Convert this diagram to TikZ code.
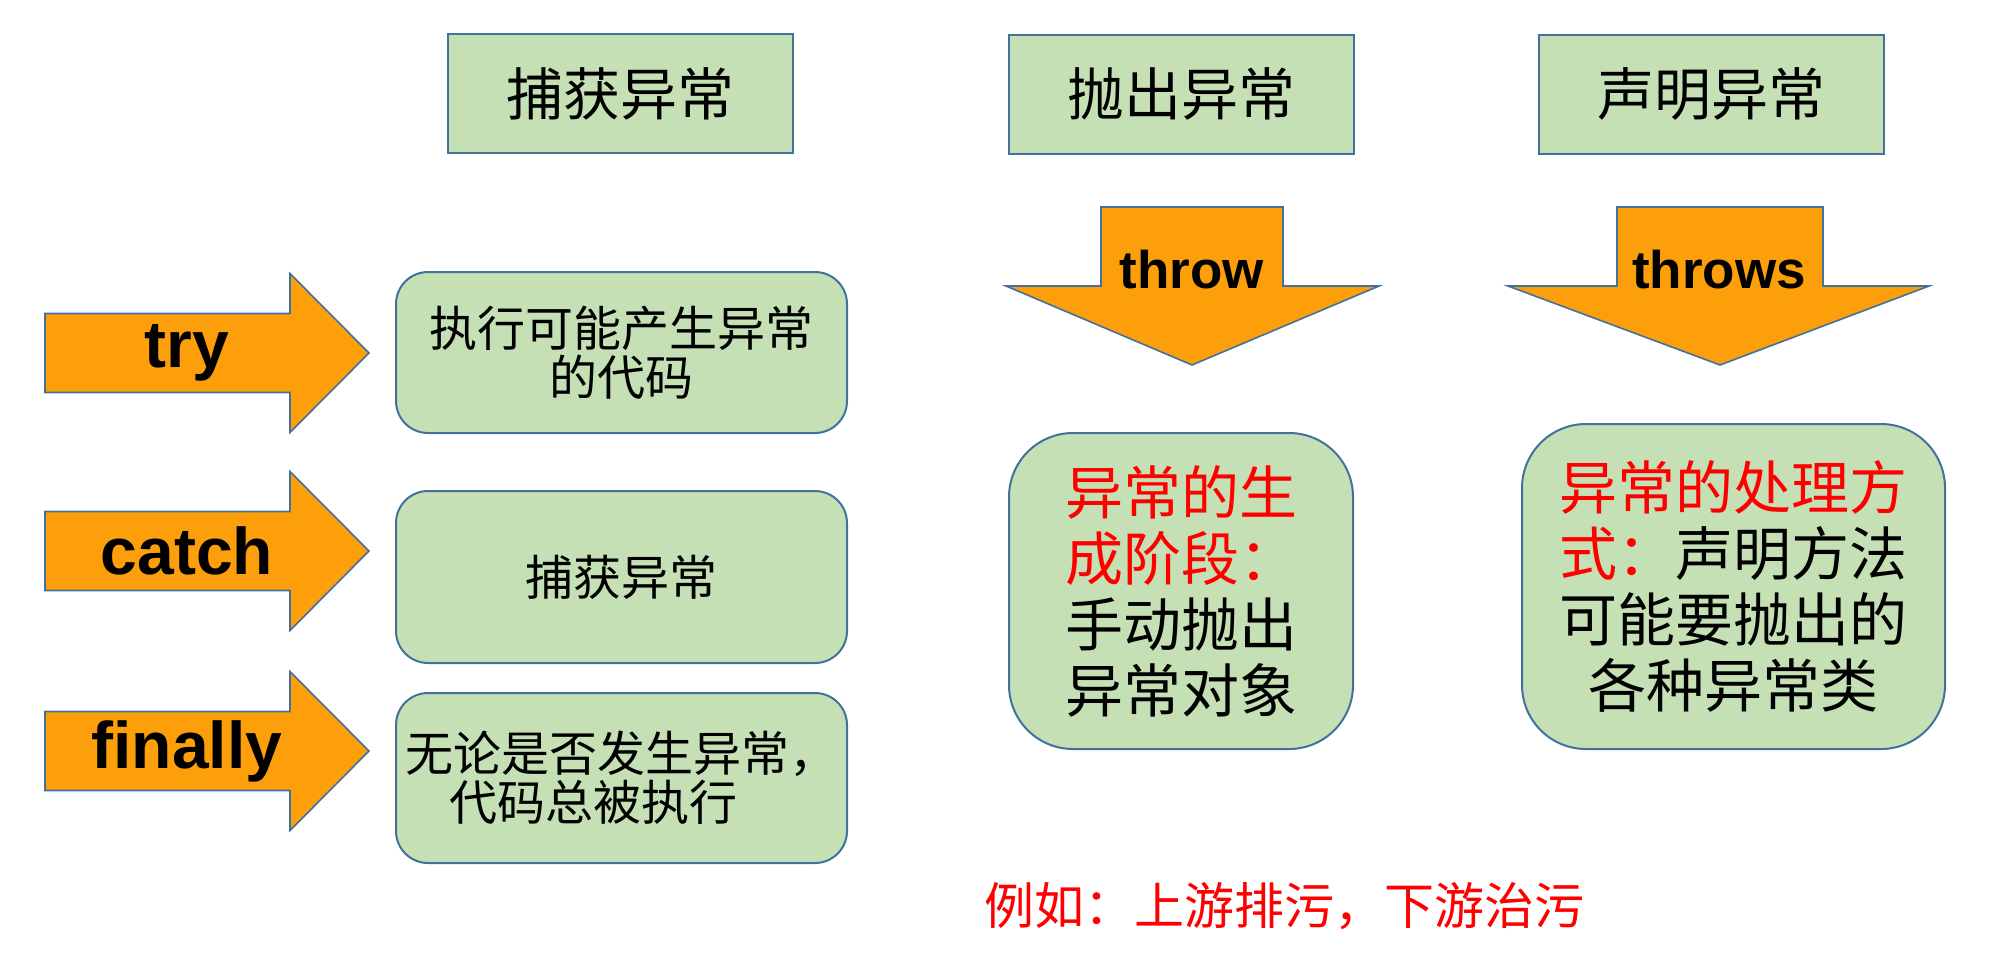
\documentclass[tikz,border=0pt]{standalone}
\usepackage{fontspec}
\setmainfont{Liberation Sans}
\newfontfamily\cjk{Noto Sans CJK SC}
\usepackage{xcolor}
\usetikzlibrary{positioning}

\definecolor{boxgreen}{RGB}{197,224,180}
\definecolor{boxline}{RGB}{65,113,156}
\definecolor{arroworange}{RGB}{252,159,10}

\begin{document}
\begin{tikzpicture}[
  x=0.5pt, y=-0.5pt,
  headblock/.style={draw=boxline, fill=boxgreen, line width=1pt, minimum height=59.5pt, minimum width=172.5pt, font=\cjk\fontsize{28.5}{30}\selectfont},
  codeblock/.style={draw=boxline, fill=boxgreen, line width=1pt, rounded corners=16pt, minimum width=225.5pt, align=center, font=\cjk\fontsize{24}{24.5}\selectfont},
  noteblock/.style={draw=boxline, fill=boxgreen, line width=1pt, rounded corners=32pt, align=center, font=\cjk\fontsize{29}{33}\selectfont},
  bigarrow/.style={draw=boxline, fill=arroworange, line width=0.8pt},
  armtext/.style={font=\bfseries\fontsize{33}{33}\selectfont},
  downtext/.style={font=\bfseries\fontsize{26.5}{26.5}\selectfont}
]
\useasboundingbox (0,0) rectangle (1996,960);

% column heads
\node[headblock] (catchhead) at (620.5,93.5) {捕获异常};
\node[headblock] (throwhead) at (1181,94) {抛出异常};
\node[headblock] (throwshead) at (1711.5,94) {声明异常};

% try / catch / finally
\coordinate (tryarrow) at (45,353);
\coordinate (catcharrow) at (45,551);
\coordinate (finallyarrow) at (45,751);
\filldraw[bigarrow] (tryarrow) ++(0,-39.5) -- ++(245,0) -- ++(0,-40) -- ++(79,79.5) -- ++(-79,79.5) -- ++(0,-40) -- ++(-245,0) -- cycle;
\filldraw[bigarrow] (catcharrow) ++(0,-39.5) -- ++(245,0) -- ++(0,-40) -- ++(79,79.5) -- ++(-79,79.5) -- ++(0,-40) -- ++(-245,0) -- cycle;
\filldraw[bigarrow] (finallyarrow) ++(0,-39.5) -- ++(245,0) -- ++(0,-40) -- ++(79,79.5) -- ++(-79,79.5) -- ++(0,-40) -- ++(-245,0) -- cycle;
\node[armtext] (trytext) at (187,353) {try};
\node[armtext] (catchtext) at (187,551) {catch};
\node[armtext] (finallytext) at (187,751) {finally};

\node[codeblock, minimum height=80.5pt] (trybox) at (621.5,352.5) {执行可能产生异常\\的代码};
\node[codeblock, minimum height=86pt, below=28pt of trybox] (catchbox) {捕获异常};
\node[codeblock, minimum height=85pt, below=14pt of catchbox] (finallybox) {无论是否发生异常，\\代码总被执行\hspace*{28pt}};

% throw / throws
\coordinate (throwarrow) at (1192,207);
\coordinate (throwsarrow) at (1720,207);
\filldraw[bigarrow] (throwarrow) ++(-91,0) -- ++(182,0) -- ++(0,79) -- ++(96,0) -- ++(-187,79) -- ++(-186,-79) -- ++(95,0) -- cycle;
\filldraw[bigarrow] (throwsarrow) ++(-103,0) -- ++(206,0) -- ++(0,79) -- ++(106,0) -- ++(-209,79) -- ++(-212,-79) -- ++(109,0) -- cycle;
\node[downtext] (throwtext) at (1192,270) {throw};
\node[downtext] (throwstext) at (1719,270) {throws};

\node[noteblock, minimum width=172pt, minimum height=158pt] (throwbox) at (1181,591) {\textcolor{red}{异常的生}\\\textcolor{red}{成阶段：}\\手动抛出\\异常对象};
\node[noteblock, minimum width=211.5pt, minimum height=162.5pt] (throwsbox) at (1733.5,586.5) {\textcolor{red}{异常的处理方}\\\textcolor{red}{式：}声明方法\\可能要抛出的\\各种异常类};

\node[font=\cjk\fontsize{25}{26}\selectfont, text=red] (example) at (1284.5,906) {例如：上游排污，下游治污};

\end{tikzpicture}
\end{document}
